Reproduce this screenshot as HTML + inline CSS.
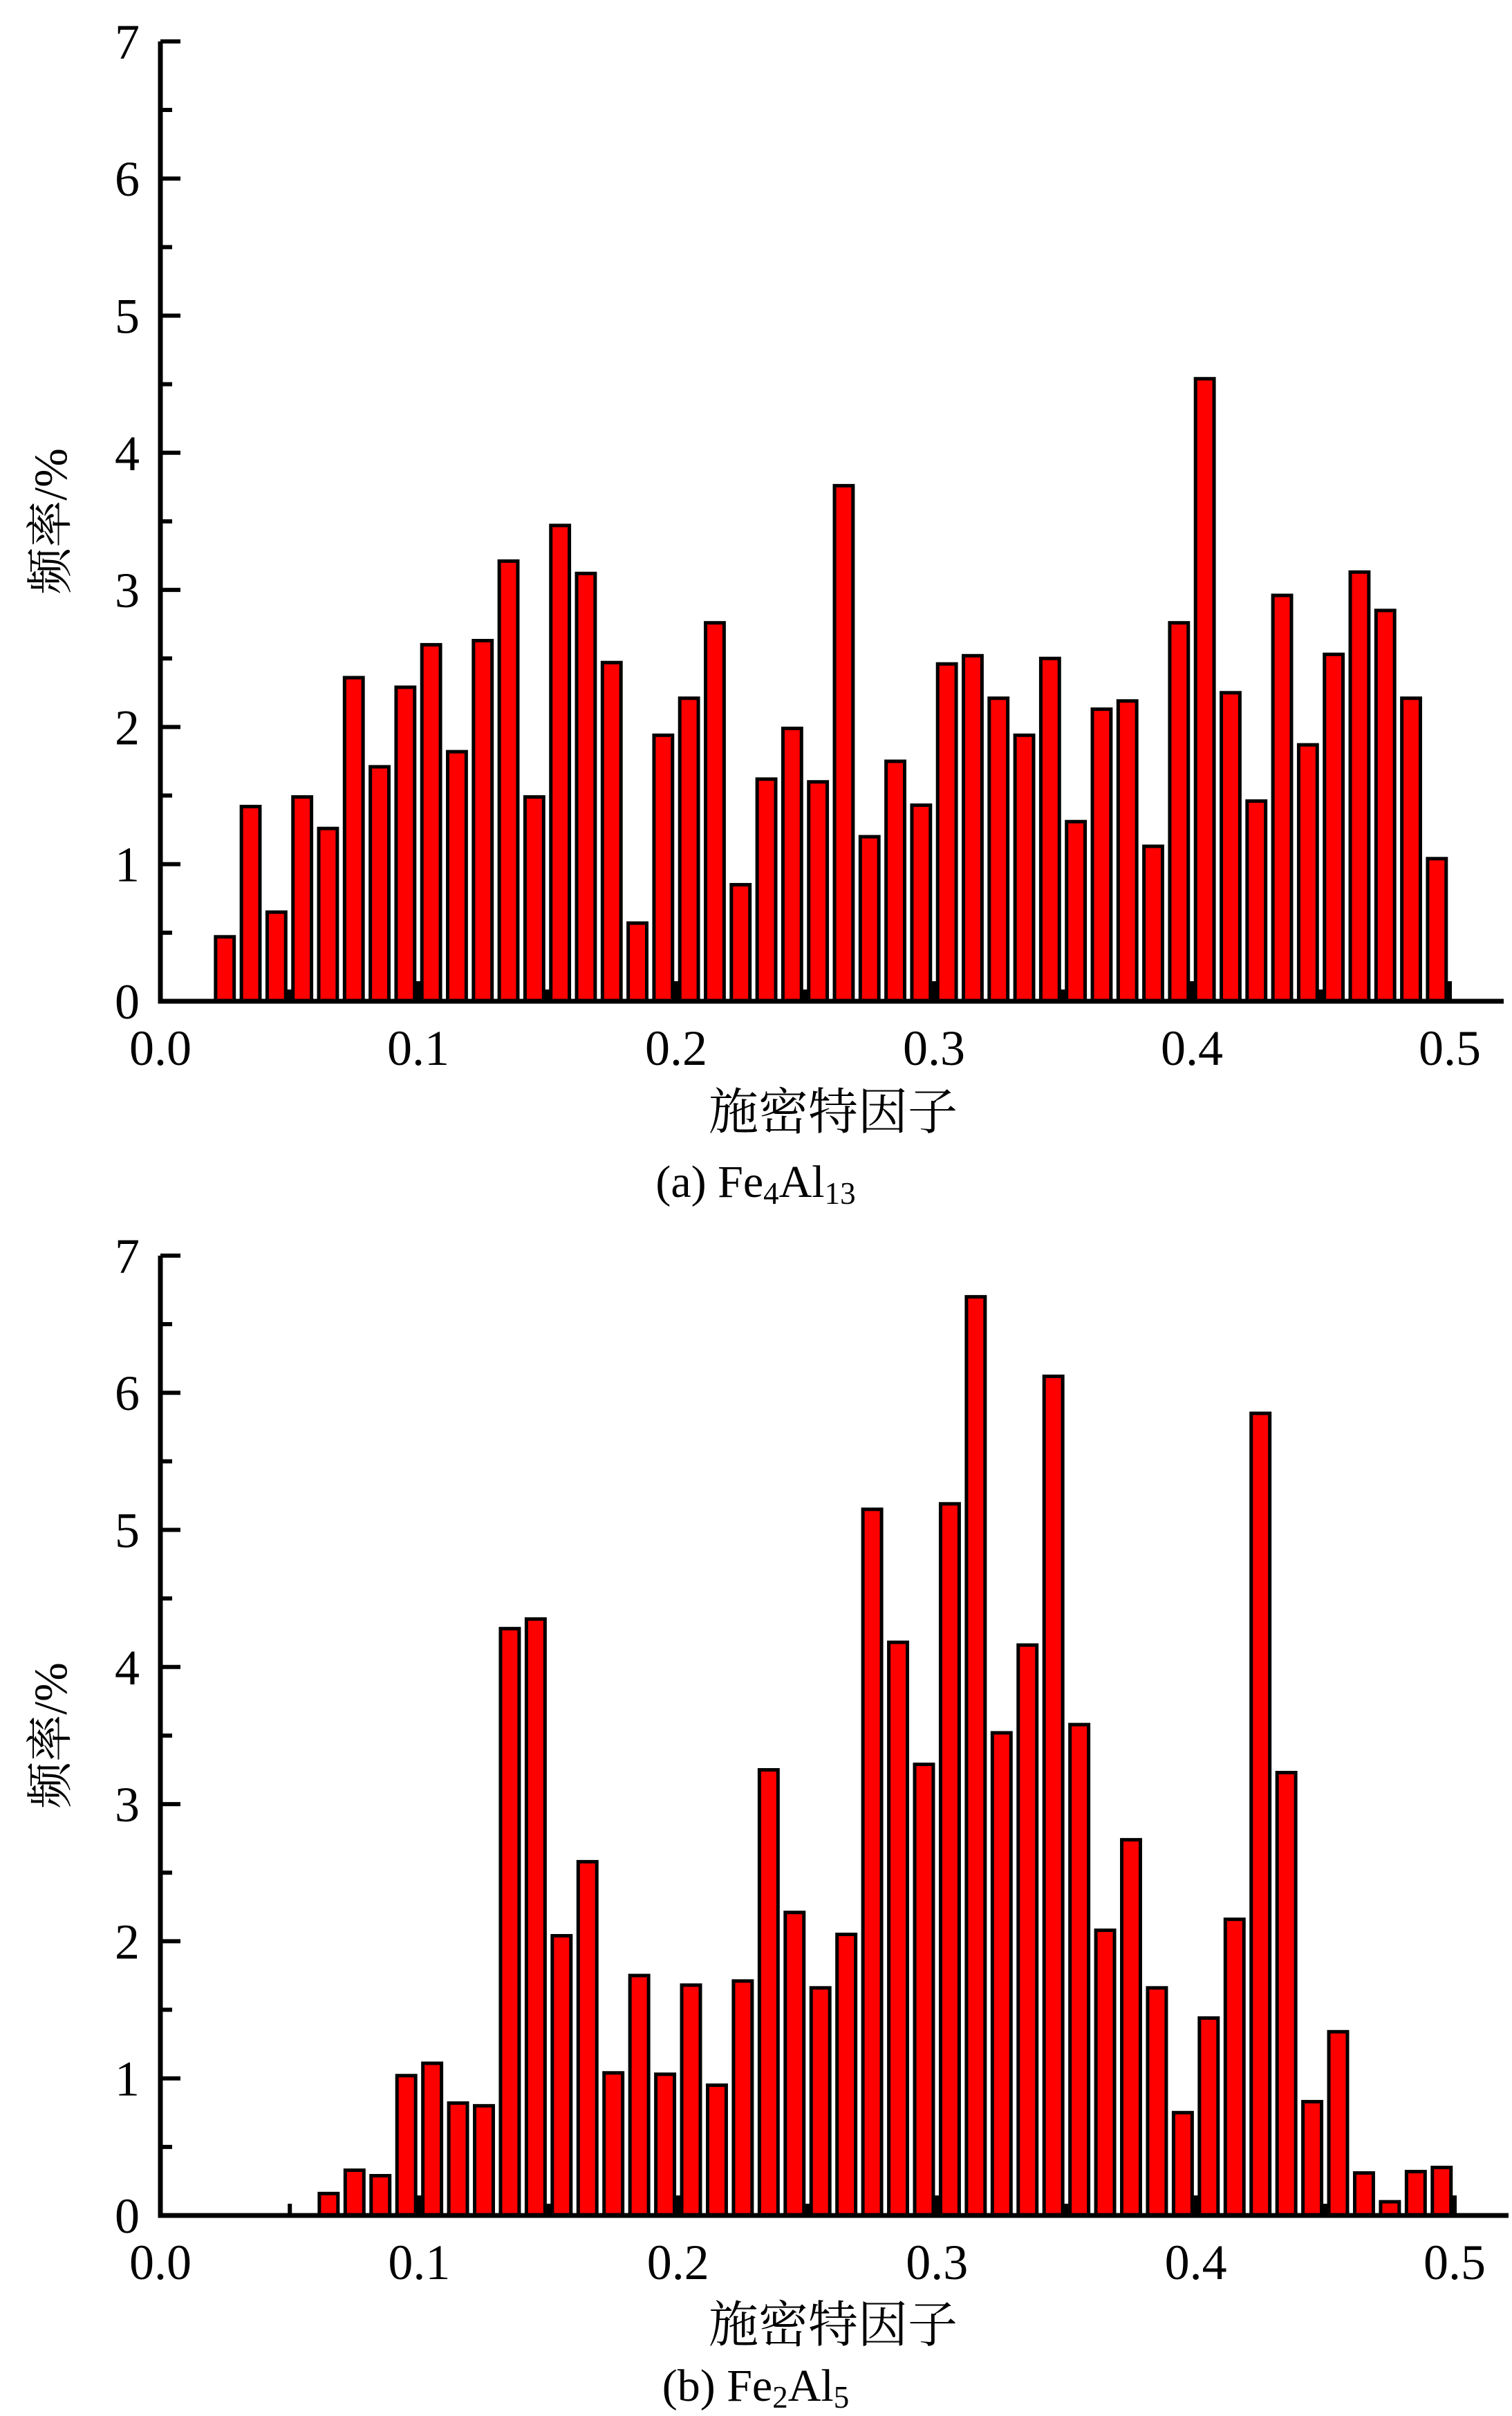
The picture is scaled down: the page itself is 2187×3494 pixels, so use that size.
<!DOCTYPE html>
<html><head><meta charset="utf-8"><style>
html,body{margin:0;padding:0;background:#fff;}
svg{display:block;}
text{font-family:"Liberation Serif","Noto Serif CJK SC",serif;fill:#000;}
</style></head>
<body>
<svg id="chart" width="2187" height="3494" viewBox="0 0 2187 3494" xmlns="http://www.w3.org/2000/svg"></svg>
<script>
const xCentersA = [0.025,0.035,0.045,0.055,0.065,0.075,0.085,0.095,0.105,0.115,0.125,0.135,0.145,0.155,0.165,0.175,0.185,0.195,0.205,0.215,0.225,0.235,0.245,0.255,0.265,0.275,0.285,0.295,0.305,0.315,0.325,0.335,0.345,0.355,0.365,0.375,0.385,0.395,0.405,0.415,0.425,0.435,0.445,0.455,0.465,0.475,0.485,0.495];
const valuesA = [0.47,1.42,0.65,1.49,1.26,2.36,1.71,2.29,2.60,1.82,2.63,3.21,1.49,3.47,3.12,2.47,0.57,1.94,2.21,2.76,0.85,1.62,1.99,1.60,3.76,1.20,1.75,1.43,2.46,2.52,2.21,1.94,2.50,1.31,2.13,2.19,1.13,2.76,4.54,2.25,1.46,2.96,1.87,2.53,3.13,2.85,2.21,1.04];
const xCentersB = [0.065,0.075,0.085,0.095,0.105,0.115,0.125,0.135,0.145,0.155,0.165,0.175,0.185,0.195,0.205,0.215,0.225,0.235,0.245,0.255,0.265,0.275,0.285,0.295,0.305,0.315,0.325,0.335,0.345,0.355,0.365,0.375,0.385,0.395,0.405,0.415,0.425,0.435,0.445,0.455,0.465,0.475,0.485,0.495];
const valuesB = [0.16,0.33,0.29,1.02,1.11,0.82,0.80,4.28,4.35,2.04,2.58,1.04,1.75,1.03,1.68,0.95,1.71,3.25,2.21,1.66,2.05,5.15,4.18,3.29,5.19,6.70,3.52,4.16,6.12,3.58,2.08,2.74,1.66,0.75,1.44,2.16,5.85,3.23,0.83,1.34,0.31,0.10,0.32,0.35];
const yTicks = [0,1,2,3,4,5,6,7];
const xTicks = [0.0,0.1,0.2,0.3,0.4,0.5];
const xTickLabels = ["0.0","0.1","0.2","0.3","0.4","0.5"];

const NS="http://www.w3.org/2000/svg";
const svg=document.getElementById('chart');
function mk(tag,attrs,parent){const e=document.createElementNS(NS,tag);for(const k in attrs)e.setAttribute(k,attrs[k]);(parent||svg).appendChild(e);return e;}

function panel(p){
  const g=mk('g',{});
  
  
  const xs=v=>p.x0+v*p.pxX;
  const ys=v=>p.y0-v*p.pxY;
  const bw=0.0072*p.pxX;
  p.xc.forEach((c,i)=>{
    const r=mk('rect',{x:xs(c)-bw/2,y:ys(p.vals[i]),width:bw,height:p.vals[i]*p.pxY,fill:'#ff0000',stroke:'#000','stroke-width':5},g);
    
    
  });
  const ax=mk('path',{d:`M${p.x0},${ys(7)} V${p.y0} H${p.xEnd}`,fill:'none',stroke:'#000','stroke-width':7},g);
  
  
  yTicks.forEach(t=>{
    mk('line',{x1:p.x0,x2:p.x0+29,y1:ys(t),y2:ys(t),stroke:'#000','stroke-width':6},g);
    if(t<7) mk('line',{x1:p.x0,x2:p.x0+17,y1:ys(t+0.5),y2:ys(t+0.5),stroke:'#000','stroke-width':6},g);
    const tx=mk('text',{x:p.x0-30,y:ys(t)+25,'font-size':72,'text-anchor':'end'},g);
    tx.textContent=t;
    
    
  });
  xTicks.forEach((t,i)=>{
    mk('line',{x1:xs(t),x2:xs(t),y1:p.y0,y2:p.y0-29,stroke:'#000','stroke-width':6},g);
    if(i<xTicks.length-1) mk('line',{x1:xs(t+0.05),x2:xs(t+0.05),y1:p.y0,y2:p.y0-17,stroke:'#000','stroke-width':6},g);
    const tx=mk('text',{x:xs(t),y:p.y0+92,'font-size':72,'text-anchor':'middle'},g);
    tx.textContent=xTickLabels[i];
    
    
  });
  const xt=mk('text',{x:1205,y:p.y0+p.titleDy,'font-size':72,'text-anchor':'middle'},g);
  xt.textContent='施密特因子';
  
  
  const yc=(ys(7)+p.y0)/2;
  const yt=mk('text',{x:0,y:0,'font-size':68,'text-anchor':'middle',transform:`translate(96,${yc}) rotate(-90)`},g);
  yt.textContent='频率/%';
  
  
  const cap=mk('text',{x:1093,y:p.y0+p.capDy,'font-size':66,'text-anchor':'middle'},g);
  cap.innerHTML=p.cap;
  
  
}
panel({name:'panel-a',x0:232,y0:1448,pxX:3730,pxY:198.3,xEnd:2175,xc:xCentersA,vals:valuesA,titleDy:185,capDy:283,
  cap:'(a) Fe<tspan font-size="45" dy="10">4</tspan><tspan dy="-10">Al</tspan><tspan font-size="45" dy="10">13</tspan>'});
panel({name:'panel-b',x0:232,y0:3204,pxX:3744,pxY:198.3,xEnd:2182,xc:xCentersB,vals:valuesB,titleDy:183,capDy:268,
  cap:'(b) Fe<tspan font-size="45" dy="10">2</tspan><tspan dy="-10">Al</tspan><tspan font-size="45" dy="10">5</tspan>'});
</script>
</body></html>
